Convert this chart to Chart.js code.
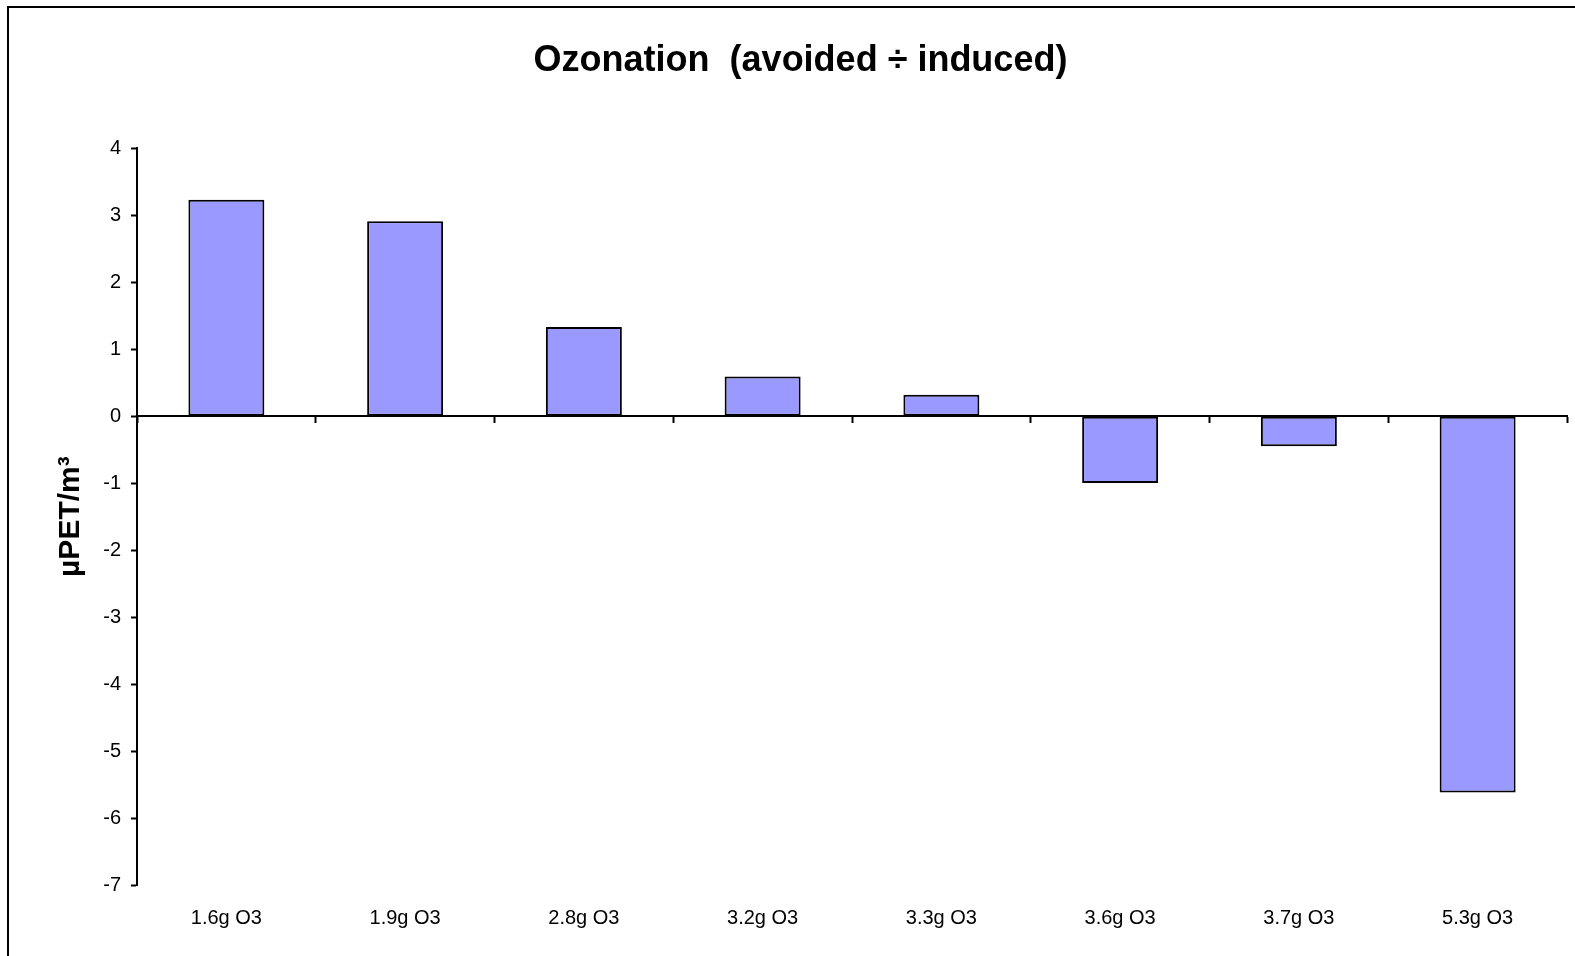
<!DOCTYPE html>
<html>
<head>
<meta charset="utf-8">
<script src="https://cdn.jsdelivr.net/npm/chart.js@4/dist/chart.umd.min.js"></script>
<style>
  html, body { margin: 0; padding: 0; background: #fff; overflow: hidden; }
  #wrap { position: relative; width: 1575px; height: 956px; }
  #frame { position: absolute; left: 7px; top: 6px; width: 1600px; height: 1000px; border: 2px solid #000; box-sizing: border-box; pointer-events: none; }
</style>
</head>
<body>
<div id="wrap">
  <canvas id="chart" width="1575" height="956"></canvas>
  <div id="frame"></div>
</div>
<script>
// 오존 처리량별 값
const categories = ['1.6g O3', '1.9g O3', '2.8g O3', '3.2g O3', '3.3g O3', '3.6g O3', '3.7g O3', '5.3g O3'];
const values = [3.23, 2.91, 1.33, 0.59, 0.32, -1.0, -0.45, -5.62];
const yMin = -7;
const yMax = 4;

const fontFamily = '"Liberation Sans", Arial, sans-serif';

const ctx = document.querySelector('#chart').getContext('2d');
const myChart = new Chart(ctx, {
    type: 'bar',
    data: {
        labels: categories,
        datasets: [{
            label: 'Ozonation',
            data: values,
            backgroundColor: '#9999ff',
            borderColor: '#000000',
            borderWidth: 2,
            borderSkipped: false,
            barPercentage: 0.425,
            categoryPercentage: 1.0,
            xAxisID: 'x',
            yAxisID: 'y'
        }]
    },
    options: {
        responsive: false,
        animation: false,
        layout: {
            padding: { left: 34, right: 8, top: 0, bottom: 0 }
        },
        plugins: {
            legend: { display: false },
            tooltip: { enabled: false },
            title: {
                display: true,
                text: 'Ozonation  (avoided ÷ induced)',
                color: '#000',
                font: { family: fontFamily, size: 36, weight: 'bold' },
                padding: { top: 39, bottom: 66 }
            }
        },
        scales: {
            x: {
                position: 'bottom',
                border: { display: false },
                grid: { display: false, drawTicks: false },
                ticks: {
                    color: '#000',
                    font: { family: fontFamily, size: 20 },
                    padding: 21,
                    maxRotation: 0
                },
                afterFit: (scale) => { scale.height = 71; }
            },
            x2: {
                position: { y: 0 },
                border: { display: true, color: '#000', width: 2 },
                grid: {
                    offset: true,
                    drawOnChartArea: false,
                    drawTicks: true,
                    tickLength: 6,
                    tickWidth: 2,
                    color: '#000'
                },
                ticks: { display: false }
            },
            y: {
                min: yMin,
                max: yMax,
                border: { display: true, color: '#000', width: 2 },
                grid: {
                    drawOnChartArea: false,
                    drawTicks: true,
                    tickLength: 6,
                    tickWidth: 2,
                    color: '#000'
                },
                ticks: {
                    stepSize: 1,
                    color: '#000',
                    padding: 10,
                    font: { family: fontFamily, size: 20 }
                },
                title: {
                    display: true,
                    text: 'µPET/m³',
                    color: '#000',
                    font: { family: fontFamily, size: 30, weight: 'bold' },
                    padding: { top: 19 }
                },
                afterFit: (scale) => { scale.width = 103; }
            }
        }
    }
});
</script>
</body>
</html>
